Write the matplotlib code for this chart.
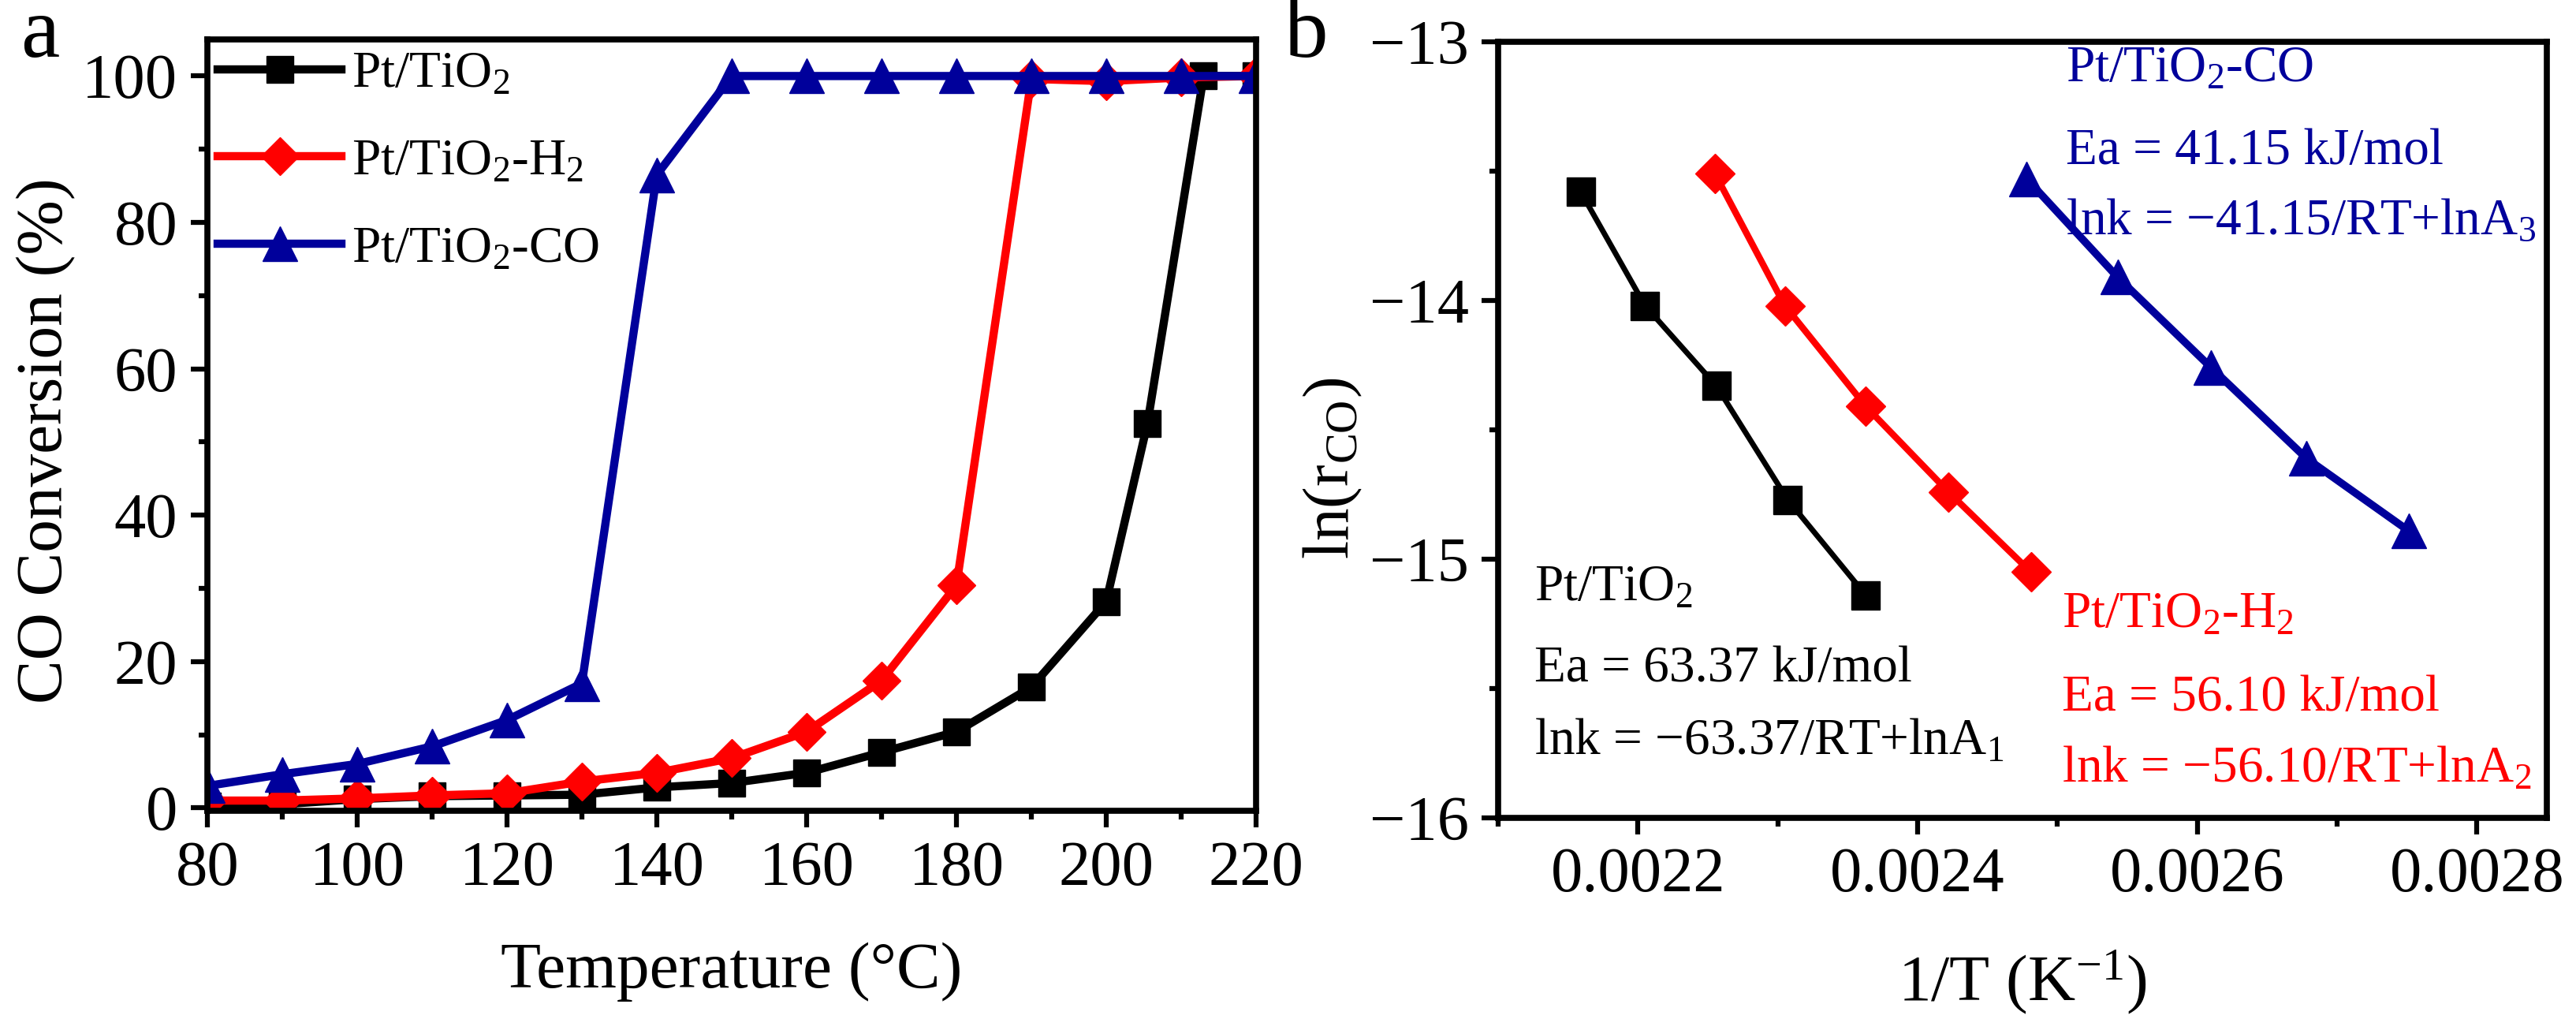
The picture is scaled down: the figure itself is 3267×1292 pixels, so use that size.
import numpy as np
import matplotlib
matplotlib.use("Agg")
import matplotlib.pyplot as plt
from matplotlib.ticker import MultipleLocator

#### fonts: Times-like everywhere, mathtext for sub/superscripts
plt.rcParams['font.family'] = ['Liberation Serif', 'DejaVu Serif']
plt.rcParams['mathtext.fontset'] = 'custom'
plt.rcParams['mathtext.rm'] = 'Liberation Serif'
plt.rcParams['mathtext.it'] = 'Liberation Serif:italic'
plt.rcParams['mathtext.default'] = 'regular'

#### panel a: light-off curves
temp_black = [80, 90, 100, 110, 120, 130, 140, 150, 160, 170, 180, 190, 200, 205.5, 213, 220]
conv_black = [0.3, 0.5, 1.2, 1.6, 1.7, 1.8, 2.8, 3.4, 4.8, 7.6, 10.4, 16.5, 28.2, 52.5, 100, 100]
temp_red = [80, 90, 100, 110, 120, 130, 140, 150, 160, 170, 180, 190, 200, 210, 220]
conv_red = [1.0, 1.0, 1.3, 1.7, 2.0, 3.6, 4.8, 6.8, 10.4, 17.4, 30.4, 99.6, 99.3, 99.8, 100]
temp_blue = [80, 90, 100, 110, 120, 130, 140, 150, 160, 170, 180, 190, 200, 210, 220]
conv_blue = [3.0, 4.6, 6.0, 8.4, 12.0, 17.0, 86.5, 100, 100, 100, 100, 100, 100, 100, 100]

#### panel b: Arrhenius plots
invT_black = [0.002159, 0.002205, 0.002256, 0.002307, 0.002363]
lnr_black = [-13.58, -14.02, -14.33, -14.77, -15.14]
invT_red = [0.002255, 0.002305, 0.002363, 0.002422, 0.002481]
lnr_red = [-13.51, -14.02, -14.41, -14.74, -15.05]
invT_blue = [0.002478, 0.002543, 0.002610, 0.002678, 0.002751]
lnr_blue = [-13.53, -13.91, -14.26, -14.61, -14.89]

labels = ['Pt/TiO$_2$', 'Pt/TiO$_2$-H$_2$', 'Pt/TiO$_2$-CO']
colors = ['black', '#ff0000', '#00009b']

fig = plt.figure(figsize=(32.67, 12.92), dpi=100)
ax1 = fig.add_axes([0.0805, 0.2043, 0.4071, 0.7570])
ax2 = fig.add_axes([0.5816, 0.1974, 0.4071, 0.7616])

def style_axes(ax):
    for s in ax.spines.values():
        s.set_linewidth(5.5)
    ax.tick_params(which='major', direction='out', length=15, width=4.5,
                   labelsize=58, pad=12, top=False, right=False)
    ax.tick_params(which='minor', direction='out', length=8, width=4.5,
                   top=False, right=False)

# --- a ---
ax1.plot(temp_black, conv_black, color=colors[0], lw=7.5, marker='s', ms=25, label=labels[0])
ax1.plot(temp_red, conv_red, color=colors[1], lw=7.5, marker='D', ms=24, label=labels[1])
ax1.plot(temp_blue, conv_blue, color=colors[2], lw=7.5, marker='^', ms=31, label=labels[2])
ax1.set_xlim(80, 220)
ax1.set_ylim(-0.4, 105)
ax1.xaxis.set_major_locator(MultipleLocator(20))
ax1.xaxis.set_minor_locator(MultipleLocator(10))
ax1.yaxis.set_major_locator(MultipleLocator(20))
ax1.yaxis.set_minor_locator(MultipleLocator(10))
style_axes(ax1)
ax1.set_xlabel('Temperature (°C)', fontsize=60, labelpad=40)
ax1.set_ylabel('CO Conversion (%)', fontsize=60)
ax1.yaxis.set_label_coords(-0.125, 0.48)
ax1.legend(loc='upper left', bbox_to_anchor=(0.01, 0.985), frameon=False, fontsize=47,
           handlelength=2.4, handletextpad=0.2, labelspacing=0.78, borderpad=0, borderaxespad=0)
fig.text(0.0156, 0.944, 'a', fontsize=80, ha='center', va='baseline')

# --- b ---
ax2.plot(invT_black, lnr_black, color=colors[0], lw=5, marker='s', ms=26)
ax2.plot(invT_red, lnr_red, color=colors[1], lw=6, marker='D', ms=25)
ax2.plot(invT_blue, lnr_blue, color=colors[2], lw=7, marker='^', ms=32)
ax2.set_xlim(0.0021, 0.00285)
ax2.set_ylim(-16, -13)
ax2.xaxis.set_major_locator(MultipleLocator(0.0002))
ax2.xaxis.set_minor_locator(MultipleLocator(0.0001))
ax2.yaxis.set_major_locator(MultipleLocator(1))
ax2.yaxis.set_minor_locator(MultipleLocator(0.5))
style_axes(ax2)
ax2.set_xlabel('1/T (K$^{-1}$)', fontsize=60, labelpad=40)
ax2.set_ylabel('ln(r$_{CO}$)', fontsize=60)
ax2.yaxis.set_label_coords(-0.128, 0.45)
fig.text(0.507, 0.944, 'b', fontsize=80, ha='center', va='baseline')

# Ea annotations
ax2.text(0.002506, -13.152, 'Pt/TiO$_2$-CO', color=colors[2], fontsize=47, va='baseline')
ax2.text(0.002506, -13.472, 'Ea = 41.15 kJ/mol', color=colors[2], fontsize=47, va='baseline')
ax2.text(0.002506, -13.743, 'lnk = \u221241.15/RT+lnA$_3$', color=colors[2], fontsize=47, va='baseline')
ax2.text(0.002126, -15.160, 'Pt/TiO$_2$', color=colors[0], fontsize=47, va='baseline')
ax2.text(0.002126, -15.473, 'Ea = 63.37 kJ/mol', color=colors[0], fontsize=47, va='baseline')
ax2.text(0.002126, -15.754, 'lnk = \u221263.37/RT+lnA$_1$', color=colors[0], fontsize=47, va='baseline')
ax2.text(0.002503, -15.263, 'Pt/TiO$_2$-H$_2$', color=colors[1], fontsize=47, va='baseline')
ax2.text(0.002503, -15.586, 'Ea = 56.10 kJ/mol', color=colors[1], fontsize=47, va='baseline')
ax2.text(0.002503, -15.860, 'lnk = \u221256.10/RT+lnA$_2$', color=colors[1], fontsize=47, va='baseline')

fig.savefig('out.png', dpi=100)
